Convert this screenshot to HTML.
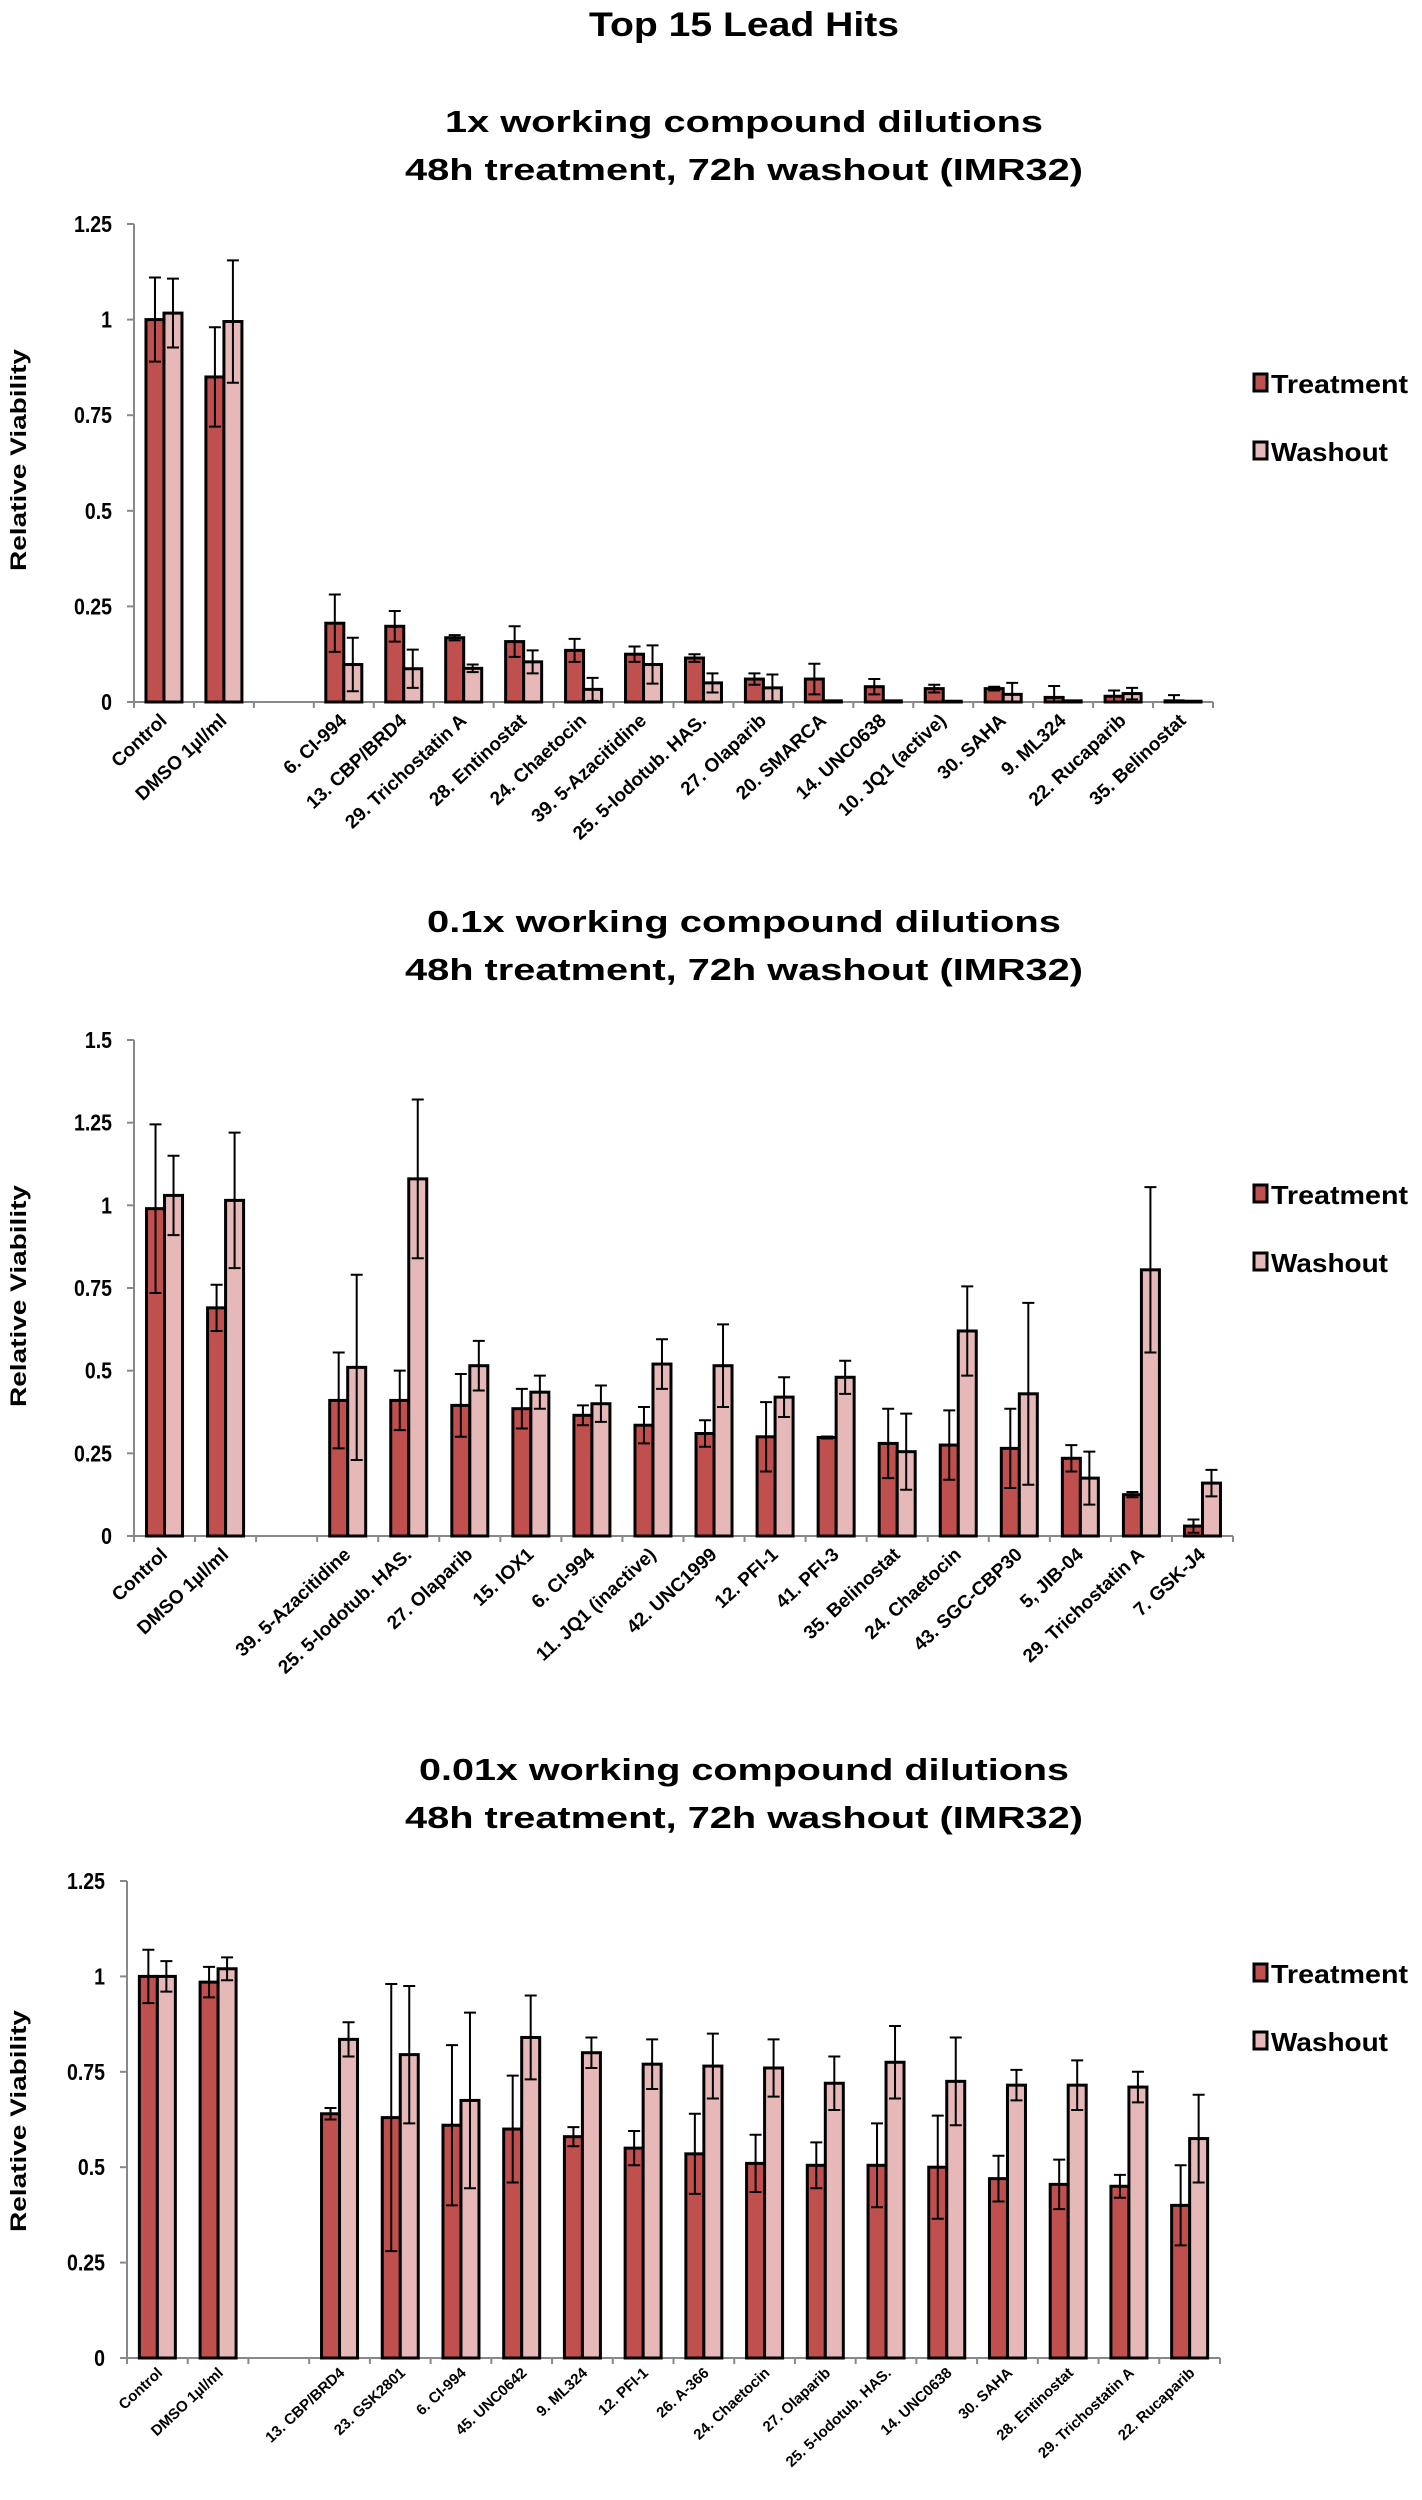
<!DOCTYPE html>
<html><head><meta charset="utf-8">
<style>
html,body{margin:0;padding:0;background:#fff;}
svg{display:block;font-family:"Liberation Sans",Arial,sans-serif;}
</style></head>
<body>
<svg id="fig" width="1422" height="2500" viewBox="0 0 1422 2500" xmlns="http://www.w3.org/2000/svg">
<text x="744" y="36" text-anchor="middle" font-size="34" font-weight="bold" textLength="310" lengthAdjust="spacingAndGlyphs">Top 15 Lead Hits</text>
</svg>
<script>
// ---- Chart 1 data (1x) ----
const cats1 = ["Control","DMSO 1µl/ml","","6. CI-994","13. CBP/BRD4","29. Trichostatin A","28. Entinostat","24. Chaetocin","39. 5-Azacitidine","25. 5-Iodotub. HAS.","27. Olaparib","20. SMARCA","14. UNC0638","10. JQ1 (active)","30. SAHA","9. ML324","22. Rucaparib","35. Belinostat"];
const treat1 = [1.0,0.85,null,0.206,0.198,0.168,0.158,0.135,0.125,0.115,0.06,0.06,0.04,0.035,0.035,0.012,0.015,0.003];
const treatErr1 = [0.11,0.13,null,0.075,0.04,0.007,0.04,0.03,0.02,0.01,0.015,0.04,0.02,0.01,0.005,0.03,0.015,0.015];
const wash1 = [1.017,0.995,null,0.098,0.087,0.088,0.105,0.033,0.098,0.05,0.037,0.003,0.003,0.002,0.02,0.003,0.022,0.002];
const washErr1 = [0.09,0.16,null,0.07,0.05,0.01,0.03,0.03,0.05,0.025,0.035,0,0,0,0.03,0,0.015,0];
const ticks1 = [0,0.25,0.5,0.75,1,1.25];
const tickLabels1 = ["0","0.25","0.5","0.75","1","1.25"];

// ---- Chart 2 data (0.1x) ----
const cats2 = ["Control","DMSO 1µl/ml","","39. 5-Azacitidine","25. 5-Iodotub. HAS.","27. Olaparib","15. IOX1","6. CI-994","11. JQ1 (inactive)","42. UNC1999","12. PFI-1","41. PFI-3","35. Belinostat","24. Chaetocin","43. SGC-CBP30","5, JIB-04","29. Trichostatin A","7. GSK-J4"];
const treat2 = [0.99,0.69,null,0.41,0.41,0.395,0.385,0.365,0.335,0.31,0.3,0.298,0.28,0.275,0.265,0.235,0.125,0.03];
const treatErr2 = [0.255,0.07,null,0.145,0.09,0.095,0.06,0.03,0.055,0.04,0.105,0.003,0.105,0.105,0.12,0.04,0.008,0.02];
const wash2 = [1.03,1.015,null,0.51,1.08,0.515,0.435,0.4,0.52,0.515,0.42,0.48,0.255,0.62,0.43,0.175,0.805,0.16];
const washErr2 = [0.12,0.205,null,0.28,0.24,0.075,0.05,0.055,0.075,0.125,0.06,0.05,0.115,0.135,0.275,0.08,0.25,0.04];
const ticks2 = [0,0.25,0.5,0.75,1,1.25,1.5];
const tickLabels2 = ["0","0.25","0.5","0.75","1","1.25","1.5"];

// ---- Chart 3 data (0.01x) ----
const cats3 = ["Control","DMSO 1µl/ml","","13. CBP/BRD4","23. GSK2801","6. CI-994","45. UNC0642","9. ML324","12. PFI-1","26. A-366","24. Chaetocin","27. Olaparib","25. 5-Iodotub. HAS.","14. UNC0638","30. SAHA","28. Entinostat","29. Trichostatin A","22. Rucaparib"];
const treat3 = [1.0,0.985,null,0.64,0.63,0.61,0.6,0.58,0.55,0.535,0.51,0.505,0.505,0.5,0.47,0.455,0.45,0.4];
const treatErr3 = [0.07,0.04,null,0.015,0.35,0.21,0.14,0.025,0.045,0.105,0.075,0.06,0.11,0.135,0.06,0.065,0.03,0.105];
const wash3 = [1.0,1.02,null,0.835,0.795,0.675,0.84,0.8,0.77,0.765,0.76,0.72,0.775,0.725,0.715,0.715,0.71,0.575];
const washErr3 = [0.04,0.03,null,0.045,0.18,0.23,0.11,0.04,0.065,0.085,0.075,0.07,0.095,0.115,0.04,0.065,0.04,0.115];
const ticks3 = [0,0.25,0.5,0.75,1,1.25];
const tickLabels3 = ["0","0.25","0.5","0.75","1","1.25"];

const NS = "http://www.w3.org/2000/svg";
const svg = document.getElementById("fig");
function mk(tag, attrs, parent){
  const e = document.createElementNS(NS, tag);
  for (const k in attrs) e.setAttribute(k, attrs[k]);
  (parent||svg).appendChild(e);
  return e;
}

function drawChart(cfg){
  const g = mk("g", {});
  
  
  const yScale = v => cfg.y0 - (v / cfg.yMax) * (cfg.y0 - cfg.yTop);
  const n = cfg.cats.length;
  const slot = (cfg.x1 - cfg.x0) / n;
  const xCenter = i => cfg.x0 + slot * (i + 0.5);

  // titles
  let t = mk("text", {x:744, y:cfg.t1y, "text-anchor":"middle", "font-size":31, "font-weight":"bold", textLength:cfg.t1w, lengthAdjust:"spacingAndGlyphs"}, g);
  t.textContent = cfg.title1;
  
  
  t = mk("text", {x:744, y:cfg.t1y+48, "text-anchor":"middle", "font-size":31, "font-weight":"bold", textLength:678, lengthAdjust:"spacingAndGlyphs"}, g);
  t.textContent = "48h treatment, 72h washout (IMR32)";
  
  

  // y axis
  let ax = mk("line", {x1:cfg.x0, y1:cfg.yTop, x2:cfg.x0, y2:cfg.y0, stroke:"#888", "stroke-width":2}, g);
  
  
  cfg.ticks.forEach((v, i) => {
    const y = yScale(v);
    mk("line", {x1:cfg.x0-7, y1:y, x2:cfg.x0, y2:y, stroke:"#888", "stroke-width":2}, g);
    const tl = mk("text", {x:cfg.x0-22, y:y+8, "text-anchor":"end", "font-size":23, "font-weight":"bold", "transform":`translate(${cfg.x0-22},0) scale(0.85,1) translate(${-(cfg.x0-22)},0)`}, g);
    tl.textContent = cfg.tickLabels[i];
    
    
  });
  const yt = mk("text", {x:0, y:0, "text-anchor":"middle", "font-size":22, "font-weight":"bold", textLength:222, lengthAdjust:"spacingAndGlyphs", transform:`translate(26,${cfg.ytY}) rotate(-90)`}, g);
  yt.textContent = "Relative Viability";
  
  

  // x axis
  ax = mk("line", {x1:cfg.x0, y1:cfg.y0, x2:cfg.x1, y2:cfg.y0, stroke:"#888", "stroke-width":2}, g);
  
  
  for (let i = 0; i <= n; i++) {
    const x = cfg.x0 + slot * i;
    mk("line", {x1:x, y1:cfg.y0, x2:x, y2:cfg.y0+6, stroke:"#888", "stroke-width":2}, g);
  }

  const bw = 18;
  const drawBar = (x, v, e, fill, nm) => {
    if (v === null) return;
    const yv = yScale(v);
    const r = mk("rect", {x:x, y:yv, width:bw, height:Math.max(cfg.y0-yv,0.5), fill:fill, stroke:"#000", "stroke-width":3}, g);
    
    
    if (e > 0) {
      const cx = x + bw/2, yh = yScale(v+e), yl = yScale(Math.max(v-e,0));
      const eb = mk("path", {d:`M${cx},${yl}V${yh}M${cx-6},${yh}H${cx+6}M${cx-6},${yl}H${cx+6}`, stroke:"#000", "stroke-width":2, fill:"none"}, g);
      
      
    }
  };
  cfg.cats.forEach((c, i) => {
    const xc = xCenter(i);
    drawBar(xc - bw, cfg.treat[i], cfg.treatErr[i], "#c0504d", "bar-treatment");
    drawBar(xc, cfg.wash[i], cfg.washErr[i], "#e6b9b8", "bar-washout");
    if (c) {
      const lx = xc + cfg.lblDx, ly = cfg.y0 + cfg.lblDy;
      const lb = mk("text", {x:0, y:0, "text-anchor":"end", "font-size":cfg.lblSize, "font-weight":"bold", transform:`translate(${lx},${ly}) rotate(-43)`}, g);
      lb.textContent = c;
      
      
    }
  });

  // legend
  [["Treatment","#c0504d",cfg.legY],["Washout","#e6b9b8",cfg.legY+68]].forEach(([lab,col,ly]) => {
    const lg = mk("g", {}, g);
    
    
    mk("rect", {x:1254, y:ly-10, width:13, height:17, fill:col, stroke:"#000", "stroke-width":3}, lg);
    const lt = mk("text", {x:1271, y:ly+9, "font-size":26, "font-weight":"bold", textLength:lab==="Treatment"?137:117, lengthAdjust:"spacingAndGlyphs"}, lg);
    lt.textContent = lab;
  });
}

drawChart({name:"chart-1x", cats:cats1, treat:treat1, treatErr:treatErr1, wash:wash1, washErr:washErr1, ticks:ticks1, tickLabels:tickLabels1,
  yMax:1.25, yTop:224, y0:702, x0:134, x1:1213, title1:"1x working compound dilutions", t1w:598, t1y:132, ytY:460, legY:384, lblDx:4, lblDy:20, lblSize:19});
drawChart({name:"chart-0.1x", cats:cats2, treat:treat2, treatErr:treatErr2, wash:wash2, washErr:washErr2, ticks:ticks2, tickLabels:tickLabels2,
  yMax:1.5, yTop:1040, y0:1536, x0:134, x1:1233, title1:"0.1x working compound dilutions", t1w:634, t1y:932, ytY:1296, legY:1195, lblDx:4, lblDy:20, lblSize:19});
drawChart({name:"chart-0.01x", cats:cats3, treat:treat3, treatErr:treatErr3, wash:wash3, washErr:washErr3, ticks:ticks3, tickLabels:tickLabels3,
  yMax:1.25, yTop:1881, y0:2358, x0:127, x1:1220, title1:"0.01x working compound dilutions", t1w:650, t1y:1780, ytY:2121, legY:1974, lblDx:6, lblDy:16, lblSize:15});
</script>
</body></html>
